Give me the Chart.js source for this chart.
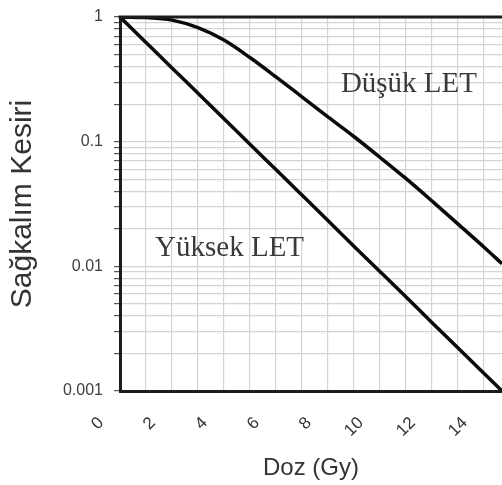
<!DOCTYPE html>
<html>
<head>
<meta charset="utf-8">
<script src="https://cdn.jsdelivr.net/npm/chart.js@4/dist/chart.umd.min.js"></script>
<style>
  html, body { margin: 0; padding: 0; background: #fff; }
  #wrap { width: 502px; height: 485px; position: relative; }
</style>
</head>
<body>
<div id="wrap"><canvas id="survivalChart"></canvas></div>
<script>
// Dose values (Gy)
const doseValues = [0, 1, 2, 3, 4, 5, 6, 7, 8, 9, 10, 11, 12, 13, 14, 14.7];
// Survival fraction, low LET (shoulder curve)
const dusukLET = [1, 0.989, 0.944, 0.822, 0.653, 0.473, 0.331, 0.229, 0.158, 0.11, 0.075, 0.0507, 0.0335, 0.0219, 0.0143, 0.0105];
// Survival fraction, high LET (straight on log scale)
const yuksekLET = [1, 0.625, 0.39, 0.245, 0.153, 0.0955, 0.0597, 0.0373, 0.0233, 0.0145, 0.0091, 0.0057, 0.00355, 0.00222, 0.00139, 0.001];

// y axis: decade labels and minor grid multipliers
const yDecades = [0.001, 0.01, 0.1, 1];
const yDecadeLabels = ['0.001', '0.01', '0.1', '1'];
const yMinorSteps = [2, 3, 4, 5, 6, 7, 8, 9];
// x axis labels every 2 Gy
const xLabelValues = [0, 2, 4, 6, 8, 10, 12, 14];

// curve labels placed in data coordinates
const curveLabels = ['Düşük LET', 'Yüksek LET'];
const curveLabelX = [8.5, 1.35];
const curveLabelY = [0.25, 0.012];

// build the y grid values (each decade and its 2..9 multiples)
const yGridValues = [];
yDecades.forEach(function (d, i) {
    yGridValues.push(d);
    if (i < yDecades.length - 1) {
        yMinorSteps.forEach(function (m) { yGridValues.push(+(d * m).toPrecision(3)); });
    }
});

function toPoints(values) {
    return doseValues.map(function (x, i) { return { x: x, y: values[i] }; });
}

// top frame line + text labels on the curves
const extrasPlugin = {
    id: 'extras',
    afterDatasetsDraw(chart) {
        const ctx = chart.ctx;
        const area = chart.chartArea;
        const xs = chart.scales.x;
        const ys = chart.scales.y;
        ctx.save();
        ctx.strokeStyle = '#1c1c1c';
        ctx.lineWidth = 3;
        ctx.beginPath();
        ctx.moveTo(area.left - 1.5, area.top);
        ctx.lineTo(area.right, area.top);
        ctx.stroke();

        ctx.fillStyle = '#3a3a3a';
        ctx.textBaseline = 'alphabetic';
        ctx.textAlign = 'left';
        ctx.font = '29px "Liberation Serif", "Times New Roman", serif';
        curveLabels.forEach(function (txt, i) {
            ctx.fillText(txt, xs.getPixelForValue(curveLabelX[i]), ys.getPixelForValue(curveLabelY[i]));
        });
        ctx.restore();
    }
};

Chart.defaults.font.family = '"Liberation Sans", Arial, sans-serif';

const ctx = document.getElementById('survivalChart').getContext('2d');
const myChart = new Chart(ctx, {
    type: 'line',
    data: {
        datasets: [{
            label: 'Düşük LET',
            data: toPoints(dusukLET),
            borderColor: '#0a0a0a',
            borderWidth: 3.5,
            pointRadius: 0,
            cubicInterpolationMode: 'monotone',
            fill: false
        }, {
            label: 'Yüksek LET',
            data: toPoints(yuksekLET),
            borderColor: '#0a0a0a',
            borderWidth: 3.5,
            pointRadius: 0,
            cubicInterpolationMode: 'monotone',
            fill: false
        }]
    },
    options: {
        responsive: true,
        maintainAspectRatio: false,
        animation: false,
        layout: { padding: { top: 17, right: 0, bottom: 0, left: 0 } },
        plugins: {
            legend: { display: false },
            tooltip: { enabled: false }
        },
        scales: {
            x: {
                type: 'linear',
                min: 0,
                max: 14.7,
                afterFit: function (scale) {
                    scale.height = 94;
                    scale.paddingLeft = 0;
                    scale.paddingRight = 0;
                },
                border: { color: '#1c1c1c', width: 3 },
                grid: { color: '#d4d4d4', lineWidth: 1.2, drawTicks: false },
                ticks: {
                    stepSize: 1,
                    includeBounds: false,
                    autoSkip: false,
                    minRotation: 45,
                    maxRotation: 45,
                    labelOffset: -19,
                    padding: 22,
                    color: '#333',
                    font: { size: 17 },
                    callback: function (value) {
                        return xLabelValues.indexOf(value) >= 0 ? String(value) : '';
                    }
                },
                title: {
                    display: true,
                    text: 'Doz (Gy)',
                    color: '#333',
                    font: { size: 24 },
                    padding: { top: 0, bottom: 2 }
                }
            },
            y: {
                type: 'logarithmic',
                min: 0.001,
                max: 1,
                afterFit: function (scale) {
                    scale.width = 120;
                    scale.paddingTop = 0;
                    scale.paddingBottom = 0;
                },
                afterBuildTicks: function (scale) {
                    scale.ticks = yGridValues.map(function (v) { return { value: v }; });
                },
                border: { color: '#1c1c1c', width: 3 },
                grid: { color: '#d4d4d4', lineWidth: 1.2, tickLength: 6, tickColor: '#555' },
                ticks: {
                    autoSkip: false,
                    padding: 11,
                    color: '#404040',
                    font: { size: 16 },
                    callback: function (value) {
                        const k = yDecades.indexOf(value);
                        return k >= 0 ? yDecadeLabels[k] : '';
                    }
                },
                title: {
                    display: true,
                    text: 'Sağkalım Kesiri',
                    color: '#333',
                    font: { size: 30 },
                    padding: { top: 5, bottom: 0 }
                }
            }
        }
    },
    plugins: [extrasPlugin]
});
</script>
</body>
</html>
